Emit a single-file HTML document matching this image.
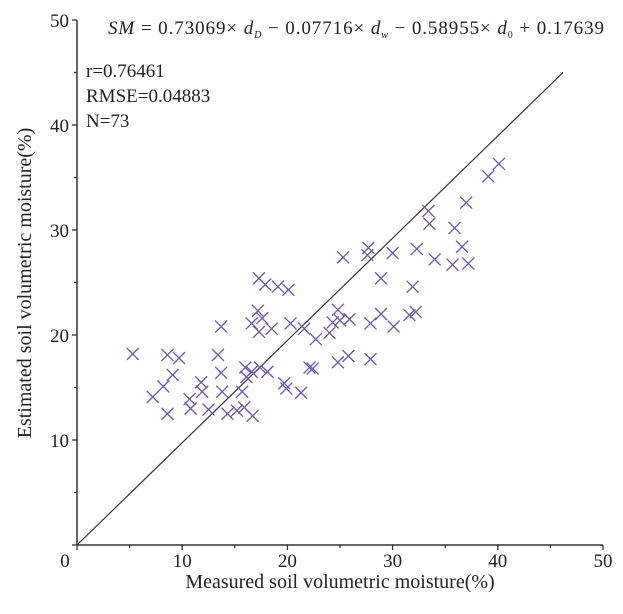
<!DOCTYPE html>
<html><head><meta charset="utf-8"><style>
body{margin:0;background:#fff}
svg text{font-family:"Liberation Serif",serif;fill:#222}
</style></head><body>
<svg id="chart" width="623" height="609" viewBox="0 0 623 609" xmlns="http://www.w3.org/2000/svg">
<g id="axes"></g><g id="marks"></g>
<text x="108" y="34" font-size="19" textLength="496" lengthAdjust="spacing"><tspan font-style="italic">SM</tspan> = 0.73069× <tspan font-style="italic">d</tspan><tspan font-style="italic" font-size="10" dy="4">D</tspan><tspan dy="-4"> − 0.07716× </tspan><tspan font-style="italic">d</tspan><tspan font-style="italic" font-size="10" dy="4">w</tspan><tspan dy="-4"> − 0.58955× </tspan><tspan font-style="italic">d</tspan><tspan font-size="10" dy="4">0</tspan><tspan dy="-4"> + 0.17639</tspan></text>
<text x="86" y="77" font-size="19">r=0.76461</text>
<text x="86" y="102" font-size="19">RMSE=0.04883</text>
<text x="86" y="127" font-size="19">N=73</text>
<text x="340" y="588" font-size="20" text-anchor="middle">Measured soil volumetric moisture(%)</text>
<text transform="translate(31,283) rotate(-90)" font-size="20" text-anchor="middle">Estimated soil volumetric moisture(%)</text>
</svg>
<script>
const xVals=[5.3,8.6,9.7,9.1,8.2,7.2,8.6,10.7,10.8,11.8,11.9,12.5,13.7,13.4,13.7,13.8,14.3,15.2,15.9,16.7,15.7,16.0,16.1,17.4,18.1,16.6,17.3,17.9,19.1,20.1,17.2,17.6,16.6,17.3,18.5,20.3,21.6,19.7,19.9,21.3,22.1,40.1,39.1,37.0,33.4,33.5,35.9,36.6,34.0,35.7,37.2,32.3,30.0,27.7,27.6,25.3,28.9,31.9,22.7,24.0,24.8,24.3,25.0,25.9,27.9,28.9,30.1,31.6,32.2,22.4,24.8,25.8,27.9];
const yVals=[18.2,18.1,17.8,16.2,15.1,14.1,12.5,13.9,13.0,15.5,14.6,12.9,20.8,18.1,16.4,14.6,12.5,12.8,13.1,12.3,14.6,16.9,16.0,16.9,16.5,16.5,25.4,24.8,24.6,24.3,22.3,21.6,21.1,20.3,20.6,21.1,20.6,15.4,14.9,14.5,16.9,36.3,35.1,32.6,31.8,30.6,30.2,28.4,27.2,26.7,26.8,28.2,27.8,28.3,27.6,27.4,25.4,24.6,19.6,20.2,22.4,21.2,21.4,21.5,21.1,22.0,20.8,21.9,22.2,16.8,17.4,18.0,17.7];
const tickLabels=["0","10","20","30","40","50"];
const tickValues=[0,10,20,30,40,50];
const lineStart=[0,0], lineEnd=[46.2,45];
const X=v=>77+v*10.52, Y=v=>545-v*10.5;
const NS="http://www.w3.org/2000/svg";
const ax=document.getElementById('axes'), mk=document.getElementById('marks');
function mkEl(t,a,p){const e=document.createElementNS(NS,t);for(const k in a)e.setAttribute(k,a[k]);p.appendChild(e);return e;}
let e=mkEl('line',{x1:X(0),y1:Y(50),x2:X(0),y2:Y(0),stroke:'#333','stroke-width':1.5},ax);


e=mkEl('line',{x1:X(0),y1:Y(0),x2:X(50),y2:Y(0),stroke:'#333','stroke-width':1.5},ax);


for(let i=0;i<=10;i++){const v=i*5,len=i%2?3:5;
 mkEl('line',{x1:X(v),y1:Y(0),x2:X(v),y2:Y(0)+len,stroke:'#333','stroke-width':1.3},ax);
 mkEl('line',{x1:X(0),y1:Y(v),x2:X(0)-len,y2:Y(v),stroke:'#333','stroke-width':1.3},ax);}
tickValues.forEach((v,i)=>{
 let t=mkEl('text',{x:X(v),y:Y(0)+22,'font-size':19,'text-anchor':'middle'},ax);t.textContent=tickLabels[i];
 
 
 if(v===0){t.setAttribute('x',X(0)-12);return;}
 t=mkEl('text',{x:X(0)-8,y:Y(v)+7,'font-size':19,'text-anchor':'end'},ax);t.textContent=tickLabels[i];
 
 
});
e=mkEl('line',{x1:X(lineStart[0]),y1:Y(lineStart[1]),x2:X(lineEnd[0]),y2:Y(lineEnd[1]),stroke:'#333','stroke-width':1.2},mk);


xVals.forEach((xv,i)=>{const cx=X(xv),cy=Y(yVals[i]),s=6;
 const p=mkEl('path',{d:`M${cx-s} ${cy-s}L${cx+s} ${cy+s}M${cx-s} ${cy+s}L${cx+s} ${cy-s}`,stroke:'#6a55a8','stroke-width':1.3,fill:'none'},mk);
 
 
});
</script>
</body></html>
